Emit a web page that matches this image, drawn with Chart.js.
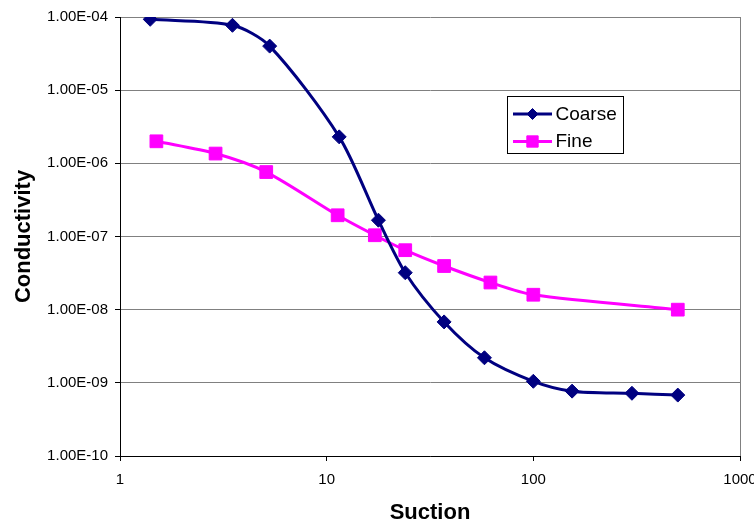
<!DOCTYPE html>
<html>
<head>
<meta charset="utf-8">
<script src="https://cdn.jsdelivr.net/npm/chart.js@4.4.0/dist/chart.umd.min.js"></script>
<style>
  html, body { margin: 0; padding: 0; background: #fff; }
  #wrap { width: 754px; height: 524px; }
</style>
</head>
<body>
<div id="wrap"><canvas id="c" width="754" height="524"></canvas></div>
<script>
// Data
const coarseSuction = [1.4, 3.5, 5.3, 11.5, 17.8, 24, 37, 58, 100, 154, 300, 500];
const coarseConductivity = [9.3e-5, 7.7e-5, 4.0e-5, 2.3e-6, 1.67e-7, 3.2e-8, 6.8e-9, 2.2e-9, 1.05e-9, 7.7e-10, 7.2e-10, 6.8e-10];
const fineSuction = [1.5, 2.9, 5.1, 11.3, 17.1, 24, 37, 62, 100, 500];
const fineConductivity = [2.0e-6, 1.36e-6, 7.6e-7, 1.95e-7, 1.04e-7, 6.5e-8, 3.95e-8, 2.35e-8, 1.6e-8, 1.0e-8];
const xTickValues = [1, 10, 100, 1000];
const xTickLabels = ['1', '10', '100', '1000'];
const yTickValues = [1e-10, 1e-9, 1e-8, 1e-7, 1e-6, 1e-5, 1e-4];
const yTickLabels = ['1.00E-10', '1.00E-09', '1.00E-08', '1.00E-07', '1.00E-06', '1.00E-05', '1.00E-04'];
const seriesNames = ['Coarse', 'Fine'];

const FONT = '"Liberation Sans", Arial, sans-serif';

const toPoints = (xs, ys) => xs.map((x, i) => ({ x: x, y: ys[i] }));

const frameAndLegend = {
  id: 'frameAndLegend',
  beforeDatasetsDraw(chart) {
    const { ctx, chartArea } = chart;
    ctx.save();
    ctx.strokeStyle = '#808080';
    ctx.lineWidth = 1;
    ctx.beginPath();
    ctx.moveTo(Math.round(chartArea.right) + 0.5, chartArea.top);
    ctx.lineTo(Math.round(chartArea.right) + 0.5, chartArea.bottom);
    ctx.stroke();
    ctx.restore();
  },
  afterDatasetsDraw(chart) {
    const { ctx } = chart;
    const bx = 507.5, by = 96.5, bw = 116, bh = 57;
    ctx.save();
    ctx.fillStyle = '#fff';
    ctx.fillRect(bx, by, bw, bh);
    ctx.strokeStyle = '#000';
    ctx.lineWidth = 1;
    ctx.strokeRect(bx, by, bw, bh);
    const rows = [114, 141.5];
    const legendRadius = [5.5, 8];
    chart.data.datasets.forEach((ds, i) => {
      const y = rows[i];
      ctx.strokeStyle = ds.borderColor;
      ctx.lineWidth = 3;
      ctx.beginPath();
      ctx.moveTo(513, y);
      ctx.lineTo(552, y);
      ctx.stroke();
      ctx.fillStyle = ds.pointBackgroundColor;
      ctx.strokeStyle = ds.pointBorderColor;
      ctx.lineWidth = 1;
      Chart.helpers.drawPoint(ctx, { pointStyle: ds.pointStyle, radius: legendRadius[i], borderWidth: 1 }, 532.5, y);
      ctx.fillStyle = '#000';
      ctx.font = '19px ' + FONT;
      ctx.textBaseline = 'middle';
      ctx.textAlign = 'left';
      ctx.fillText(ds.label, 555.5, y + 0.5);
    });
    ctx.restore();
  }
};

new Chart(document.getElementById('c'), {
  type: 'line',
  data: {
    datasets: [
      {
        label: seriesNames[0],
        data: toPoints(coarseSuction, coarseConductivity),
        borderColor: '#000080',
        backgroundColor: '#000080',
        pointBackgroundColor: '#000080',
        pointBorderColor: '#000080',
        pointStyle: 'rectRot',
        pointRadius: 7,
        pointBorderWidth: 1,
        borderWidth: 3,
        tension: 0.28,
        fill: false
      },
      {
        label: seriesNames[1],
        data: toPoints(fineSuction, fineConductivity),
        borderColor: '#FF00FF',
        backgroundColor: '#FF00FF',
        pointBackgroundColor: '#FF00FF',
        pointBorderColor: '#FF00FF',
        pointStyle: 'rect',
        pointRadius: 9,
        pointBorderWidth: 1,
        borderWidth: 3,
        tension: 0.28,
        fill: false
      }
    ]
  },
  options: {
    responsive: false,
    animation: false,
    devicePixelRatio: 1,
    layout: { padding: { top: 17, right: 14, bottom: 0, left: 0 } },
    plugins: {
      legend: { display: false },
      tooltip: { enabled: false }
    },
    scales: {
      x: {
        type: 'logarithmic',
        min: 1,
        max: 1000,
        afterBuildTicks(scale) { scale.ticks = xTickValues.map(v => ({ value: v })); },
        afterFit(scale) { scale.height = 68; scale.paddingLeft = 0; scale.paddingRight = 0; },
        ticks: {
          autoSkip: false,
          maxRotation: 0,
          padding: 10,
          color: '#000',
          font: { family: FONT, size: 15 },
          callback(value) { const i = xTickValues.indexOf(value); return i >= 0 ? xTickLabels[i] : ''; }
        },
        grid: {
          drawOnChartArea: false,
          drawTicks: true,
          tickLength: 5,
          tickColor: '#000',
          tickWidth: 1
        },
        border: { display: true, color: '#000', width: 1 },
        title: {
          display: true,
          text: 'Suction',
          color: '#000',
          font: { family: FONT, size: 22, weight: 'bold', lineHeight: 1 },
          padding: { top: 0, bottom: 0 }
        }
      },
      y: {
        type: 'logarithmic',
        min: 1e-10,
        max: 1e-4,
        afterBuildTicks(scale) { scale.ticks = yTickValues.map(v => ({ value: v })); },
        afterFit(scale) { scale.width = 120; },
        ticks: {
          autoSkip: false,
          padding: 7,
          color: '#000',
          font: { family: FONT, size: 15 },
          callback(value) { const i = yTickValues.findIndex(v => Math.abs(v - value) / v < 1e-6); return i >= 0 ? yTickLabels[i] : ''; }
        },
        grid: {
          color: '#808080',
          lineWidth: 1,
          drawTicks: true,
          tickLength: 5,
          tickColor: '#000'
        },
        border: { display: true, color: '#000', width: 1 },
        title: {
          display: true,
          text: 'Conductivity',
          color: '#000',
          font: { family: FONT, size: 22, weight: 'bold', lineHeight: 1 },
          padding: { top: 13, bottom: 0 }
        }
      }
    }
  },
  plugins: [frameAndLegend]
});
</script>
</body>
</html>
